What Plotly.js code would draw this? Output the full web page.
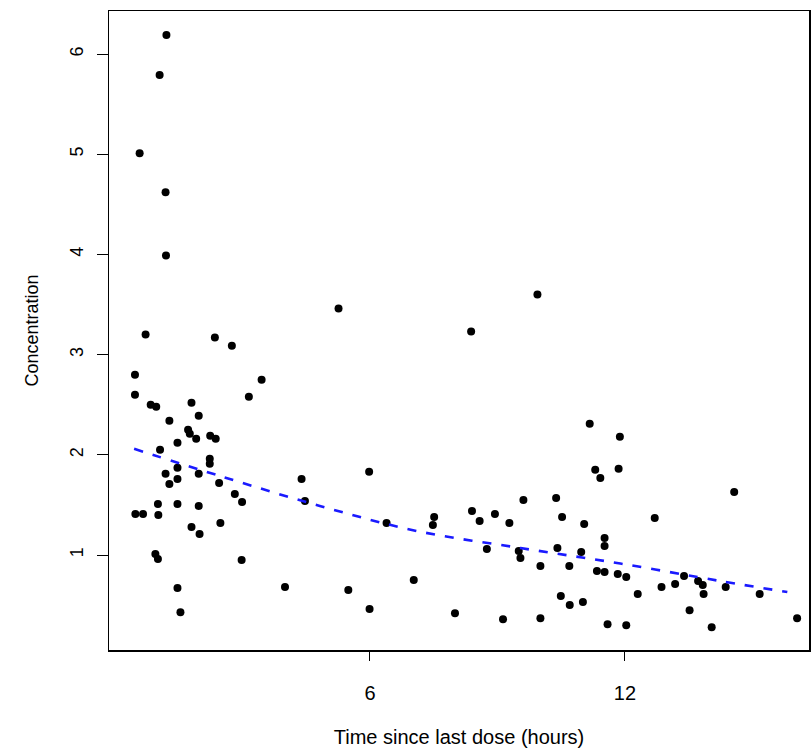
<!DOCTYPE html>
<html>
<head>
<meta charset="utf-8">
<script src="https://cdn.plot.ly/plotly-3.0.1.min.js"></script>
<style>html,body{margin:0;padding:0;background:#fff;}</style>
</head>
<body>
<div id="chart" style="width:811px;height:748px;"></div>
<script>
// Observed concentrations vs time since last dose
const timeHours = [1.21,1.05,0.58,1.19,1.20,0.72,2.35,2.75,0.47,3.45,0.47,3.15,0.84,0.97,1.80,1.97,1.28,1.72,1.76,1.91,2.24,2.37,1.47,1.06,1.19,1.47,1.47,1.28,1.97,2.23,2.23,2.45,2.82,2.99,1.01,1.47,1.97,0.48,0.66,1.02,2.48,1.80,1.99,0.95,1.01,2.98,1.47,4.00,1.54,4.39,5.26,8.38,9.94,5.98,4.47,6.39,7.51,7.48,8.40,8.58,8.94,9.28,9.61,8.75,9.50,9.54,10.01,5.49,7.03,5.99,8.00,9.13,10.01,11.17,11.88,11.30,11.42,11.85,14.57,10.38,10.52,11.04,12.70,11.52,11.52,10.41,10.97,10.69,11.34,11.52,11.83,12.03,12.30,12.86,13.18,13.39,13.72,13.83,13.85,14.37,15.17,10.49,10.70,11.01,13.52,11.59,12.03,14.04,16.05];
const concentration = [6.19,5.79,5.01,4.62,3.99,3.20,3.17,3.09,2.80,2.75,2.60,2.58,2.50,2.48,2.52,2.39,2.34,2.25,2.21,2.16,2.19,2.16,2.12,2.05,1.81,1.87,1.76,1.71,1.81,1.96,1.91,1.72,1.61,1.53,1.51,1.51,1.49,1.41,1.41,1.40,1.32,1.28,1.21,1.01,0.96,0.95,0.67,0.68,0.43,1.76,3.46,3.23,3.60,1.83,1.54,1.32,1.38,1.30,1.44,1.34,1.41,1.32,1.55,1.06,1.04,0.97,0.89,0.65,0.75,0.46,0.42,0.36,0.37,2.31,2.18,1.85,1.77,1.86,1.63,1.57,1.38,1.31,1.37,1.17,1.09,1.07,1.03,0.89,0.84,0.83,0.81,0.78,0.61,0.68,0.71,0.79,0.74,0.70,0.61,0.68,0.61,0.59,0.50,0.53,0.45,0.31,0.30,0.28,0.37];

// Fitted curve
const fitTime = [0.45,2.46,4.82,7.10,9.54,11.89,14.25,15.82];
const fitConc = [2.06,1.79,1.49,1.24,1.07,0.915,0.74,0.63];

const xTickVals = [6,12];
const xTickText = ['6','12'];
const yTickVals = [1,2,3,4,5,6];
const yTickText = ['1','2','3','4','5','6'];

const traces = [
  {
    x: timeHours, y: concentration, type: 'scatter', mode: 'markers',
    marker: {color: '#000000', size: 8}, hoverinfo: 'x+y', showlegend: false
  },
  {
    x: fitTime, y: fitConc, type: 'scatter', mode: 'lines',
    line: {color: '#1a1aff', width: 2.6, dash: '9px,10px', shape: 'spline'},
    hoverinfo: 'skip', showlegend: false
  }
];

const layout = {
  width: 811, height: 748,
  margin: {l: 109, r: 2, t: 11, b: 98},
  paper_bgcolor: '#ffffff', plot_bgcolor: '#ffffff',
  font: {family: 'Liberation Sans, Arial, sans-serif', color: '#000000'},
  xaxis: {
    range: [-0.141, 16.33], tickmode: 'array', tickvals: xTickVals, ticktext: xTickText,
    showgrid: false, zeroline: false, showline: true, mirror: true,
    linecolor: '#000000', linewidth: 1.5,
    ticks: 'outside', ticklen: 9, tickwidth: 1, tickcolor: '#000000',
    tickfont: {size: 20}, ticklabelstandoff: 15,
    title: {text: 'Time since last dose (hours)', font: {size: 20}, standoff: 28}
  },
  yaxis: {
    range: [0.052, 6.43], tickmode: 'array', tickvals: yTickVals, ticktext: yTickText,
    showgrid: false, zeroline: false, showline: true, mirror: true,
    linecolor: '#000000', linewidth: 1.5,
    ticks: 'outside', ticklen: 11, tickwidth: 1, tickcolor: '#000000',
    tickfont: {size: 18}, tickangle: -90, ticklabelstandoff: 6,
    title: {text: 'Concentration', font: {size: 18}, standoff: 24}
  }
};

Plotly.newPlot('chart', traces, layout, {displayModeBar: false, staticPlot: true});
</script>
</body>
</html>
